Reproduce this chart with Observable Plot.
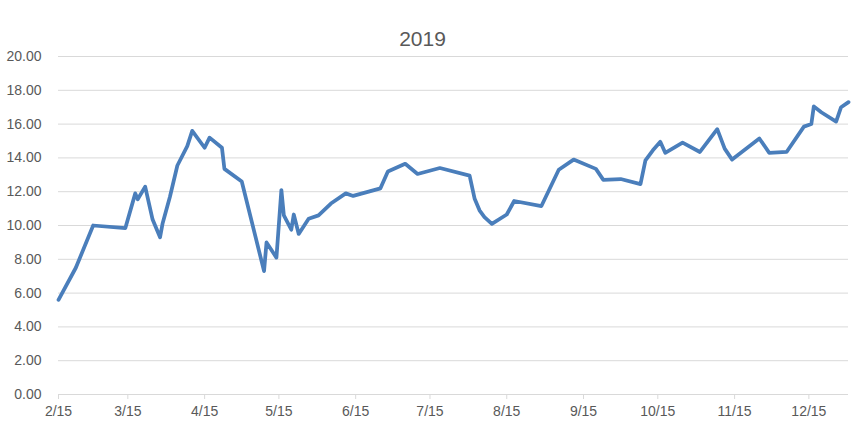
<!DOCTYPE html>
<html>
<head>
<meta charset="utf-8">
<script src="https://cdn.jsdelivr.net/npm/d3@7"></script>
<script src="https://cdn.jsdelivr.net/npm/@observablehq/plot@0.6"></script>
<style>
  html, body { margin: 0; padding: 0; background: #fff; }
  #chart svg { display: block; }
</style>
</head>
<body>
<div id="chart"></div>
<script>
const title = "2019";
const dates = [
  "2019-02-15","2019-02-22","2019-03-01","2019-03-14","2019-03-18","2019-03-19","2019-03-22","2019-03-25",
  "2019-03-28","2019-03-29","2019-04-01","2019-04-04","2019-04-08","2019-04-10","2019-04-15","2019-04-17",
  "2019-04-22","2019-04-23","2019-04-30","2019-05-09","2019-05-10","2019-05-14","2019-05-16","2019-05-17",
  "2019-05-20","2019-05-21","2019-05-23","2019-05-27","2019-05-31","2019-06-05","2019-06-11","2019-06-14",
  "2019-06-25","2019-06-28","2019-07-05","2019-07-10","2019-07-19","2019-07-31","2019-08-02","2019-08-04",
  "2019-08-06","2019-08-09","2019-08-15","2019-08-18","2019-08-29","2019-09-05","2019-09-11","2019-09-20",
  "2019-09-23","2019-09-30","2019-10-08","2019-10-10","2019-10-13","2019-10-16","2019-10-18","2019-10-25",
  "2019-11-01","2019-11-08","2019-11-11","2019-11-14","2019-11-25","2019-11-29","2019-12-06","2019-12-13",
  "2019-12-16","2019-12-17","2019-12-20","2019-12-26","2019-12-28","2019-12-31"
];
const values = [
  5.6, 7.5, 10.0, 9.85, 11.9, 11.55, 12.3, 10.35,
  9.3, 10.1, 11.7, 13.55, 14.7, 15.6, 14.6, 15.2,
  14.6, 13.35, 12.6, 7.3, 9.0, 8.1, 12.1, 10.6,
  9.75, 10.65, 9.5, 10.4, 10.6, 11.3, 11.9, 11.75,
  12.2, 13.2, 13.65, 13.05, 13.4, 12.95, 11.6, 10.9,
  10.5, 10.1, 10.65, 11.45, 11.15, 13.3, 13.9, 13.35,
  12.7, 12.75, 12.45, 13.85, 14.45, 14.95, 14.3, 14.9,
  14.35, 15.7, 14.55, 13.9, 15.15, 14.3, 14.35, 15.85,
  16.0, 17.05, 16.7, 16.15, 17.0, 17.3
];
const xTicks = ["2019-02-15","2019-03-15","2019-04-15","2019-05-15","2019-06-15","2019-07-15",
                "2019-08-15","2019-09-15","2019-10-15","2019-11-15","2019-12-15"];
const yTicks = [0, 2, 4, 6, 8, 10, 12, 14, 16, 18, 20];
const xDomain = ["2019-02-15", "2019-12-31"];

const data = dates.map((d, i) => ({date: new Date(d + "T00:00:00Z"), value: values[i]}));
const fmtX = d => `${d.getUTCMonth() + 1}/${d.getUTCDate()}`;

const chart = Plot.plot({
  width: 857,
  height: 425,
  marginTop: 56,
  marginBottom: 31,
  marginLeft: 58,
  marginRight: 9,
  style: {fontFamily: "'Liberation Sans', Arial, sans-serif", fontSize: "14px", color: "#595959", background: "#fff"},
  x: {type: "utc", domain: xDomain.map(d => new Date(d + "T00:00:00Z"))},
  y: {domain: [0, 20]},
  marks: [
    Plot.gridY(yTicks, {stroke: "#d9d9d9", strokeOpacity: 1, strokeWidth: 1}),
    Plot.ruleY([0], {stroke: "#d9d9d9", strokeWidth: 1}),
    Plot.axisY(yTicks, {tickSize: 0, tickPadding: 17, tickFormat: d3.format(".2f"), label: null, fill: "#595959", fontSize: 14}),
    Plot.axisX(xTicks.map(d => new Date(d + "T00:00:00Z")), {tickSize: 5, tickPadding: 7, tickFormat: fmtX, label: null, stroke: "#d9d9d9", fill: "#595959", fontSize: 14}),
    Plot.lineY(data, {x: "date", y: "value", stroke: "#4a7ebb", strokeWidth: 3.75, strokeLinejoin: "round", strokeLinecap: "round"}),
    Plot.text([title], {frameAnchor: "top", lineAnchor: "middle", dx: -31, dy: -17, fontSize: 21, fill: "#595959", textAnchor: "middle"})
  ]
});
document.getElementById("chart").appendChild(chart);
</script>
</body>
</html>
